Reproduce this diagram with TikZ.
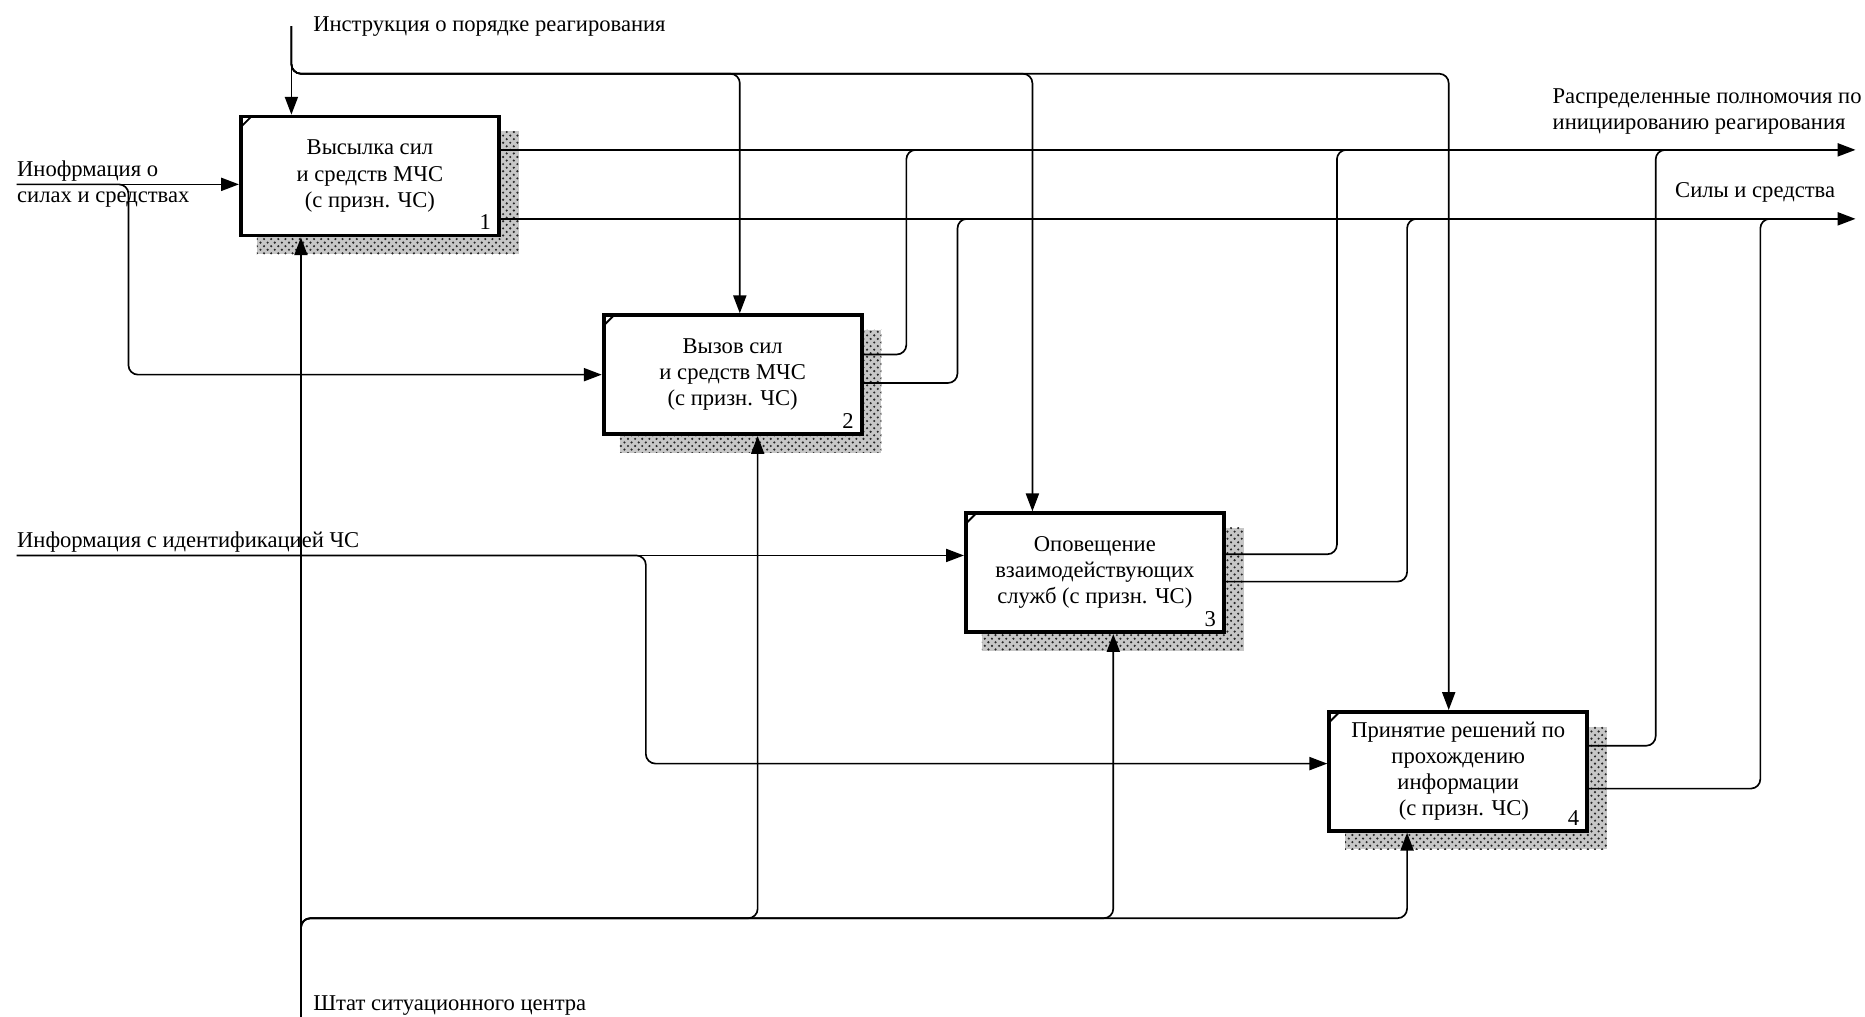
\documentclass[tikz,border=0pt]{standalone}
\usepackage{fontspec}
\setmainfont{Liberation Serif}
\usetikzlibrary{arrows.meta,patterns,calc,backgrounds}
\begin{document}
\begin{tikzpicture}[x=0.5pt,y=-0.5pt,
  conn/.style={line width=0.7pt, rounded corners=4pt},
  arr/.style={conn, -{Triangle[length=7.5pt,width=5.5pt]}},
  func/.style={draw, line width=1.6pt, fill=white, minimum width=108.5pt, minimum height=50pt, align=center, inner sep=2pt, font=\fontsize{9.5}{11}\selectfont},
  lbl/.style={font=\fontsize{9.5}{11}\selectfont, inner sep=0pt, anchor=west, align=left},
  num/.style={font=\fontsize{9.5}{11}\selectfont, inner sep=0pt, anchor=south east},
  shadow/.style={preaction={fill=black!22}, pattern=crosshatch dots, pattern color=black!85}
]
\useasboundingbox (0,0) rectangle (1568,855);

% functions
\node[func] (b1) at (311,148) {Высылка сил\\и средств МЧС\\(с призн. ЧС)};
\node[func] (b2) at (616,315) {Вызов сил\\и средств МЧС\\(с призн. ЧС)};
\node[func] (b3) at (920.5,481.5) {Оповещение\\взаимодействующих\\служб (с призн. ЧС)};
\node[func] (b4) at (1226,648.5) {Принятие решений по\\прохождению\\информации\\\ \ (с призн. ЧС)};

\begin{scope}[on background layer]
\foreach \b in {b1,b2,b3,b4}{
  \fill[shadow] ($(\b.north west)+(15,14)$) rectangle ($(\b.south east)+(15,14)$);
}
\end{scope}

\foreach \b/\n in {b1/1,b2/2,b3/3,b4/4}{
  \draw[line width=0.8pt] ($(\b.north west)+(1,11)$) -- ($(\b.north west)+(11,1)$);
  \node[num] (n\n) at ($(\b.south east)+(-8,-6)$) {\n};
}

% free ends and joints
\coordinate (ctl) at (245,22);
\coordinate (c2) at (622,62);
\coordinate (c3) at (868,62);
\coordinate (c4) at (1218,62);
\coordinate (in1) at (14,155);
\coordinate (j1) at (108,155);
\coordinate (in2) at (14,467);
\coordinate (j2) at (543,467);
\coordinate (j2b) at (543,642);
\coordinate (mech) at (253,855);
\coordinate (m2) at (637,772);
\coordinate (m3) at (936,772);
\coordinate (m4) at (1183,772);
\coordinate (o1) at (1560,126);
\coordinate (o2) at (1560,184);
\coordinate (o1e) at (1530,126);
\coordinate (o2e) at (1530,184);
\coordinate (p21) at (762,126);
\coordinate (p22) at (805,184);
\coordinate (p31) at (1124,126);
\coordinate (p32) at (1183,184);
\coordinate (p41) at (1392,126);
\coordinate (p42) at (1480,184);
\coordinate (y21) at (0,298);
\coordinate (y22) at (0,322);
\coordinate (y31) at (0,466);
\coordinate (y32) at (0,489);
\coordinate (y41) at (0,627);
\coordinate (y42) at (0,663);

% control
\draw[arr] (ctl) -- (ctl |- b1.north);
\draw[arr] (ctl) |- (c2) -- (c2 |- b2.north);
\draw[arr] (ctl) |- (c3) -- (c3 |- b3.north);
\draw[arr] (ctl) |- (c4) -- (c4 |- b4.north);

% inputs
\draw[arr] (in1) -- (in1 -| b1.west);
\draw[arr] (in1) -- (j1) |- (b2.west);
\draw[arr] (in2) -- (in2 -| b3.west);
\draw[arr] (in2) -- (j2) -- (j2b) -- (j2b -| b4.west);

% mechanism
\draw[arr] (mech) -- (mech |- b1.south);
\draw[arr] (mech) |- (m2) -- (m2 |- b2.south);
\draw[arr] (mech) |- (m3) -- (m3 |- b3.south);
\draw[arr] (mech) |- (m4) -- (m4 |- b4.south);

% outputs
\draw[arr] (o1 -| b1.east) -- (o1);
\draw[arr] (o2 -| b1.east) -- (o2);
\draw[conn] (y21 -| b2.east) -- (y21 -| p21) -- (p21) -- (o1e);
\draw[conn] (y22 -| b2.east) -- (y22 -| p22) -- (p22) -- (o2e);
\draw[conn] (y31 -| b3.east) -- (y31 -| p31) -- (p31) -- (o1e);
\draw[conn] (y32 -| b3.east) -- (y32 -| p32) -- (p32) -- (o2e);
\draw[conn] (y41 -| b4.east) -- (y41 -| p41) -- (p41) -- (o1e);
\draw[conn] (y42 -| b4.east) -- (y42 -| p42) -- (p42) -- (o2e);

% labels
\node[lbl] (lctl) at (263,22) {Инструкция о порядке реагирования};
\node[lbl] (lin1) at (14,155) {Инофрмация о\\силах и средствах};
\node[lbl] (lin2) at (14,456) {Информация с идентификацией ЧС};
\node[lbl] (lmech) at (263,845) {Штат ситуационного центра};
\node[lbl] (lo1) at (1305,94) {Распределенные полномочия по\\инициированию реагирования};
\node[lbl] (lo2) at (1408,162) {Силы и средства};
\end{tikzpicture}
\end{document}
